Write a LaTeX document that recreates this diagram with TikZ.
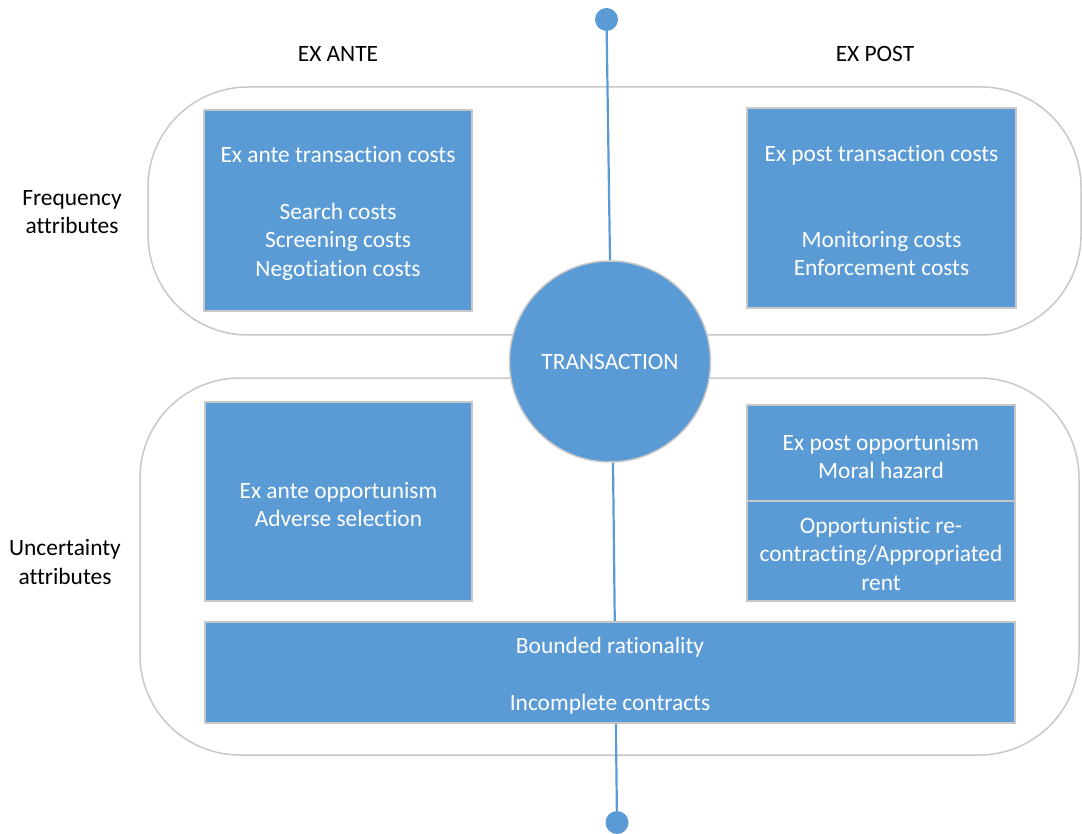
\documentclass[tikz,border=0pt]{standalone}
\usepackage{fontspec}
\setmainfont[Ligatures={NoCommon}]{Carlito}
\definecolor{boxblue}{HTML}{5B9BD5}
\definecolor{edgegray}{HTML}{C8C8C8}
\newcommand\tstrut{\rule{0pt}{22pt}}
\begin{document}
\begin{tikzpicture}[x=1pt,y=-1pt,
  frame/.style={draw=edgegray,line width=1.5pt,rounded corners=100pt},
  bluebox/.style={draw=edgegray,line width=1.2pt,fill=boxblue,text=white,align=center,
    font=\fontsize{23.4}{28.5}\selectfont,inner sep=0pt},
  plainlabel/.style={text=black,align=center,font=\fontsize{23.4}{28.5}\selectfont,inner sep=0pt},
  axisline/.style={draw=boxblue,line width=2.2pt},
  enddot/.style={circle,fill=boxblue,inner sep=0pt,minimum size=23pt},
  hub/.style={circle,fill=boxblue,draw=edgegray,line width=1.5pt,minimum size=201pt,inner sep=0pt,
    text=white,font=\fontsize{23.4}{28.5}\selectfont}]
\useasboundingbox (0,0) rectangle (1082,834);

% frames
\draw[frame] (148,87) rectangle (1081,335);
\draw[frame] (140,378) rectangle (1079,755);

% axis dots
\node[enddot] (topdot) at (606.5,19.5) {};
\node[enddot] (botdot) at (617,822.5) {};

% transaction circle
\node[hub] (circ) at (610,361.5) {\rule{0pt}{17pt}TRANSACTION};

% axis lines
\draw[axisline] (topdot.center) -- (circ.north);
\draw[axisline] ([xshift=3pt]circ.south) -- (botdot.center);

% headings
\node[plainlabel] (exante) at (338,54) {EX ANTE};
\node[plainlabel] (expost) at (875,54) {EX POST};
\node[plainlabel] (freq) at (72,212) {Frequency\\attributes};
\node[plainlabel] (unc) at (65,562) {Uncertainty\\attributes};

% boxes
\node[bluebox,minimum width=268pt,minimum height=201pt] (eatc) at (338,210.5)
  {\tstrut Ex ante transaction costs\\[28.5pt]Search costs\\Screening costs\\Negotiation costs};
\node[bluebox,minimum width=269pt,minimum height=200pt] (eptc) at (881.5,208)
  {\tstrut Ex post transaction costs\\[57pt]Monitoring costs\\Enforcement costs};
\node[bluebox,minimum width=267pt,minimum height=199pt] (eaop) at (338.5,501.5)
  {\tstrut Ex ante opportunism\\Adverse selection};
\node[bluebox,minimum width=268pt,minimum height=97pt] (epop) at (881,453.5)
  {\tstrut Ex post opportunism\\Moral hazard};
\node[bluebox,minimum width=268pt,minimum height=100pt] (recon) at (881,551)
  {\tstrut Opportunistic re-\\contracting/Appropriated\\rent};
\node[bluebox,minimum width=810pt,minimum height=101pt] (bounded) at (610,672.5)
  {\tstrut Bounded rationality\\[28.5pt]Incomplete contracts};
\end{tikzpicture}
\end{document}
